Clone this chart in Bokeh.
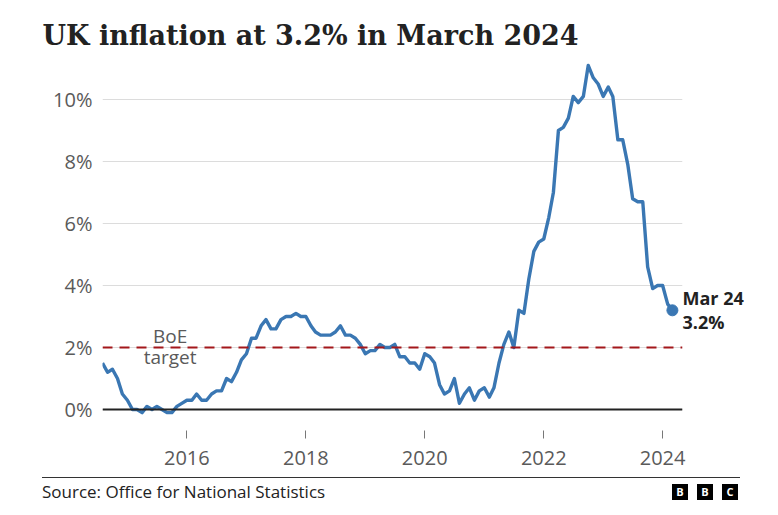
import pandas as pd
from bokeh.plotting import figure
from bokeh.models import (Range1d, FixedTicker, DatetimeTickFormatter, Span, Label,
                          ColumnDataSource, PrintfTickFormatter, LinearAxis, Div)
from bokeh.layouts import column
from bokeh.embed import file_html
from bokeh.resources import INLINE

# ---- data: UK CPI annual rate, monthly from Aug 2014 to Mar 2024 ----
start_month = "2014-08-01"
cpi = [
    1.5, 1.2, 1.3, 1.0, 0.5,                                          # 2014 Aug-Dec
    0.3, 0.0, 0.0, -0.1, 0.1, 0.0, 0.1, 0.0, -0.1, -0.1, 0.1, 0.2,    # 2015
    0.3, 0.3, 0.5, 0.3, 0.3, 0.5, 0.6, 0.6, 1.0, 0.9, 1.2, 1.6,       # 2016
    1.8, 2.3, 2.3, 2.7, 2.9, 2.6, 2.6, 2.9, 3.0, 3.0, 3.1, 3.0,       # 2017
    3.0, 2.7, 2.5, 2.4, 2.4, 2.4, 2.5, 2.7, 2.4, 2.4, 2.3, 2.1,       # 2018
    1.8, 1.9, 1.9, 2.1, 2.0, 2.0, 2.1, 1.7, 1.7, 1.5, 1.5, 1.3,       # 2019
    1.8, 1.7, 1.5, 0.8, 0.5, 0.6, 1.0, 0.2, 0.5, 0.7, 0.3, 0.6,       # 2020
    0.7, 0.4, 0.7, 1.5, 2.1, 2.5, 2.0, 3.2, 3.1, 4.2, 5.1, 5.4,       # 2021
    5.5, 6.2, 7.0, 9.0, 9.1, 9.4, 10.1, 9.9, 10.1, 11.1, 10.7, 10.5,  # 2022
    10.1, 10.4, 10.1, 8.7, 8.7, 7.9, 6.8, 6.7, 6.7, 4.6, 3.9, 4.0,    # 2023
    4.0, 3.4, 3.2,                                                    # 2024 Jan-Mar
]
months = pd.date_range(start_month, periods=len(cpi), freq="MS")
y_ticks = [0, 2, 4, 6, 8, 10]
x_tick_years = [2016, 2018, 2020, 2022, 2024]
boe_target = 2.0
last_label = "Mar 24"
last_value_label = "3.2%"
title_text = "UK inflation at 3.2% in March 2024"
source_text = "Source: Office for National Statistics"


def ms(ts):
    return pd.Timestamp(ts).timestamp() * 1000.0


src = ColumnDataSource(dict(x=[ms(m) for m in months], y=cpi))

SANS = "Open Sans"
GREY = "#5a5a5a"
BLUE = "#3a77b3"

p = figure(width=778, height=470, x_axis_type="datetime",
           x_range=Range1d(ms("2014-08-01"), ms("2024-05-02")),
           y_range=Range1d(-0.677, 11.258),
           toolbar_location=None, output_backend="svg",
           min_border_left=102, min_border_right=96,
           min_border_top=60, min_border_bottom=40)
p.outline_line_color = None
p.background_fill_color = "white"
p.border_fill_color = "white"

# title
p.title.text = title_text
p.title.align = "left"
p.title.offset = -60
p.title.standoff = 19
p.title.text_font = "DejaVu Serif"
p.title.text_font_style = "bold"
p.title.text_font_size = "27px"
p.title.text_color = "#222222"

# y axis
p.yaxis.ticker = FixedTicker(ticks=y_ticks)
p.yaxis.formatter = PrintfTickFormatter(format="%d%%")
p.yaxis.axis_line_color = None
p.yaxis.major_tick_line_color = None
p.yaxis.minor_tick_line_color = None
p.yaxis.major_label_standoff = 4
p.yaxis.major_label_text_font = SANS
p.yaxis.major_label_text_font_size = "20px"
p.yaxis.major_label_text_color = GREY

# x axis
p.xaxis.ticker = FixedTicker(ticks=[ms(f"{y}-01-01") for y in x_tick_years])
p.xaxis.formatter = DatetimeTickFormatter(years="%Y", months="%Y", days="%Y",
                                          hours="%Y", minutes="%Y", seconds="%Y",
                                          milliseconds="%Y", microseconds="%Y")
p.xaxis.axis_line_color = None
p.xaxis.major_tick_line_color = "#777777"
p.xaxis.major_tick_out = 8
p.xaxis.major_tick_in = 0
p.xaxis.minor_tick_line_color = None
p.xaxis.major_label_standoff = 12
p.xaxis.major_label_text_font = SANS
p.xaxis.major_label_text_font_size = "20px"
p.xaxis.major_label_text_color = GREY

# end-of-line label as a right-hand axis
gap = 0.39
end_ticks = [cpi[-1] + gap, cpi[-1] - gap]
end_axis = LinearAxis(ticker=FixedTicker(ticks=end_ticks),
                      major_label_overrides={end_ticks[0]: last_label,
                                             end_ticks[1]: last_value_label})
end_axis.axis_line_color = None
end_axis.major_tick_line_color = None
end_axis.minor_tick_line_color = None
end_axis.major_label_standoff = -6
end_axis.major_label_text_font = SANS
end_axis.major_label_text_font_style = "bold"
end_axis.major_label_text_font_size = "18px"
end_axis.major_label_text_color = "#222222"
p.add_layout(end_axis, "right")

# grid
p.xgrid.grid_line_color = None
p.ygrid.ticker = FixedTicker(ticks=y_ticks)
p.ygrid.grid_line_color = "#dcdcdc"
p.ygrid.grid_line_width = 1

p.add_layout(Span(location=boe_target, dimension="width", line_color="#a3171b",
                  line_width=2, line_dash="10 7"))
p.add_layout(Span(location=0, dimension="width", line_color="#222222", line_width=2))

p.line("x", "y", source=src, line_color=BLUE, line_width=3.4, line_join="round")
p.scatter(x=[ms(months[-1])], y=[cpi[-1]], size=11, fill_color=BLUE, line_color=BLUE)

p.add_layout(Label(x=ms("2015-09-20"), y=boe_target, y_offset=12, text="BoE",
                   text_align="center", text_baseline="middle", text_font=SANS,
                   text_font_size="19px", text_color=GREY))
p.add_layout(Label(x=ms("2015-09-20"), y=boe_target, y_offset=-9, text="target",
                   text_align="center", text_baseline="middle", text_font=SANS,
                   text_font_size="19px", text_color=GREY))

# footer
box = ("position:absolute;top:14px;width:16px;height:16px;background:#000;color:#fff;"
       "font-weight:bold;font-size:11px;line-height:16px;text-align:center;")
footer_html = (
    "<div style=\"position:relative;width:778px;height:45px;font-family:'Open Sans';\">"
    "<div style='position:absolute;left:42px;top:7px;width:698px;height:1px;background:#333;'></div>"
    f"<div style='position:absolute;left:42px;top:10px;font-size:17px;line-height:24px;color:#222;'>{source_text}</div>"
    f"<div style='{box}left:672px;'>B</div>"
    f"<div style='{box}left:697px;'>B</div>"
    f"<div style='{box}left:722px;'>C</div>"
    "</div>"
)
footer = Div(text=footer_html, width=778, height=45, margin=0)

layout = column(p, footer, spacing=0)
open("out.html", "w").write(file_html(layout, INLINE))
